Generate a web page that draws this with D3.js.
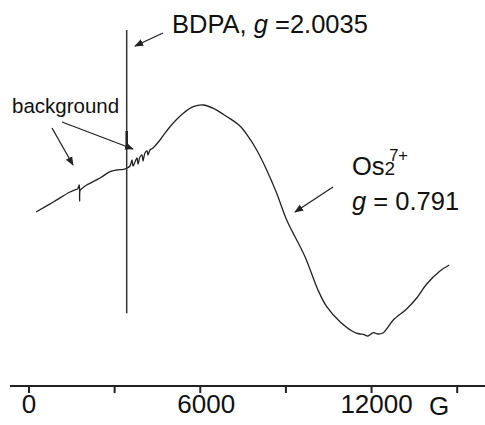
<!DOCTYPE html>
<html>
<head>
<meta charset="utf-8">
<script src="https://cdn.jsdelivr.net/npm/d3@7"></script>
<style>
  body { margin: 0; background: #fff; }
  svg { display: block; font-family: "Liberation Sans", Arial, sans-serif; }
</style>
</head>
<body>
<svg id="chart" width="485" height="425"></svg>
<script>
// magnetic field (G) and signal (arb. units)
var field = [263, 869, 1454, 1664, 1720, 1760, 1780, 1790, 1810, 1850, 2039, 2505, 2855, 3090, 3321, 3440,
  3556, 3626, 3661, 3731, 3801, 3836, 3906, 3976, 4011, 4081, 4151, 4186, 4256, 4361,
  4606, 4956, 5423, 5773, 6123, 6474, 6943, 7409, 7700, 7994, 8344, 8694, 9045,
  9686, 10141, 10446, 10912, 11378, 11600, 11728, 11893, 12078, 12250, 12429, 12779,
  13246, 13599, 13949, 14415, 14741];
var signal = [174, 184, 194, 196.5, 197, 200, 201, 185, 196, 197, 201, 208, 214.3, 216, 216.7, 217.7,
  220, 226, 220, 224, 228, 222, 229, 231, 225, 233, 235, 231, 236, 238,
  246, 259.3, 272.7, 279.3, 281, 277.7, 269.5, 260, 249.3, 236, 216, 192.7, 166,
  129.3, 96, 79.3, 64.3, 54.3, 52, 51.7, 50, 53.3, 52, 53.3, 66,
  77, 88, 102, 115, 121];

// BDPA reference line, with its heavier part near the background signal
var bdpaField = [3440, 3440];
var bdpaSignal = [356, 72.7];
var bdpaHeavy = [255, 237];

var tickValues = [0, 3000, 6000, 9000, 12000, 15000];
var tickLabels = ["0", "", "6000", "", "12000", ""];

var svg = d3.select("#chart");

var x = d3.scaleLinear().domain([0, 15000]).range([28.5, 456.7]);
var y = d3.scaleLinear().domain([0, 386]).range([386, 0]);

var line = d3.line()
  .x(d => x(d[0]))
  .y(d => y(d[1]))
  .curve(d3.curveCatmullRom.alpha(0.5));

var pts = field.map((f, i) => [f, signal[i]]);

svg.append("path")
  .attr("d", line(pts))
  .attr("fill", "none")
  .attr("stroke", "#222")
  .attr("stroke-width", 1.3)
  .attr("stroke-linejoin", "round");

var straight = d3.line().x(d => x(d[0])).y(d => y(d[1]));
svg.append("path")
  .attr("d", straight(bdpaField.map((f, i) => [f, bdpaSignal[i]])))
  .attr("fill", "none")
  .attr("stroke", "#333")
  .attr("stroke-width", 1.5);
svg.append("path")
  .attr("d", straight(bdpaField.map((f, i) => [f, bdpaHeavy[i]])))
  .attr("fill", "none")
  .attr("stroke", "#222")
  .attr("stroke-width", 2.5);

// axis
var axis = svg.append("g")
  .attr("transform", "translate(0,386)")
  .call(d3.axisBottom(x).tickValues(tickValues).tickSize(7).tickSizeOuter(0)
    .tickFormat((d, i) => tickLabels[i]));
axis.select(".domain").remove();
axis.selectAll(".tick line").attr("stroke", "#222").attr("stroke-width", 2);
axis.selectAll(".tick text")
  .attr("font-size", 26)
  .attr("fill", "#111")
  .attr("y", 10)
  .attr("dy", "0.66em")
  .attr("dx", d => d === 6000 ? 6 : d === 12000 ? 5 : 0)
  .style("font-family", "'Liberation Sans', Arial, sans-serif");

svg.append("line")
  .attr("x1", 10).attr("x2", 485)
  .attr("y1", 386).attr("y2", 386)
  .attr("stroke", "#222").attr("stroke-width", 2);

svg.append("text")
  .attr("x", 429).attr("y", 415)
  .attr("font-size", 26).attr("fill", "#111")
  .text("G");

// arrows
svg.append("defs").append("marker")
  .attr("id", "arr")
  .attr("viewBox", "0 0 10 10")
  .attr("refX", 9).attr("refY", 5)
  .attr("markerWidth", 9).attr("markerHeight", 9)
  .attr("markerUnits", "userSpaceOnUse")
  .attr("orient", "auto")
  .append("path")
  .attr("d", "M0,1 L10,5 L0,9 Z")
  .attr("fill", "#222");

var arrows = [
  [163, 33, 135, 46],
  [52, 128, 73, 165],
  [62, 122, 133, 149],
  [333, 187, 295, 212]
];
arrows.forEach(a => {
  svg.append("line")
    .attr("x1", a[0]).attr("y1", a[1])
    .attr("x2", a[2]).attr("y2", a[3])
    .attr("stroke", "#222").attr("stroke-width", 1.3)
    .attr("marker-end", "url(#arr)");
});

// labels
var t1 = svg.append("text")
  .attr("x", 172).attr("y", 33)
  .attr("font-size", 25.5).attr("fill", "#111");
t1.append("tspan").text("BDPA, ");
t1.append("tspan").attr("font-style", "italic").text("g");
t1.append("tspan").text(" =2.0035");

svg.append("text")
  .attr("x", 12).attr("y", 113)
  .attr("font-size", 20.5).attr("fill", "#111")
  .text("background");

var t2 = svg.append("text")
  .attr("x", 352).attr("y", 175)
  .attr("font-size", 25.5).attr("fill", "#111");
t2.append("tspan").text("Os");
t2.append("tspan").attr("font-size", 19).text("2");
t2.append("tspan").attr("font-size", 16.5).attr("dx", -6).attr("dy", -14).text("7+");

var t3 = svg.append("text")
  .attr("x", 352).attr("y", 210)
  .attr("font-size", 25.5).attr("fill", "#111");
t3.append("tspan").attr("font-style", "italic").text("g");
t3.append("tspan").text(" = 0.791");
</script>
</body>
</html>
